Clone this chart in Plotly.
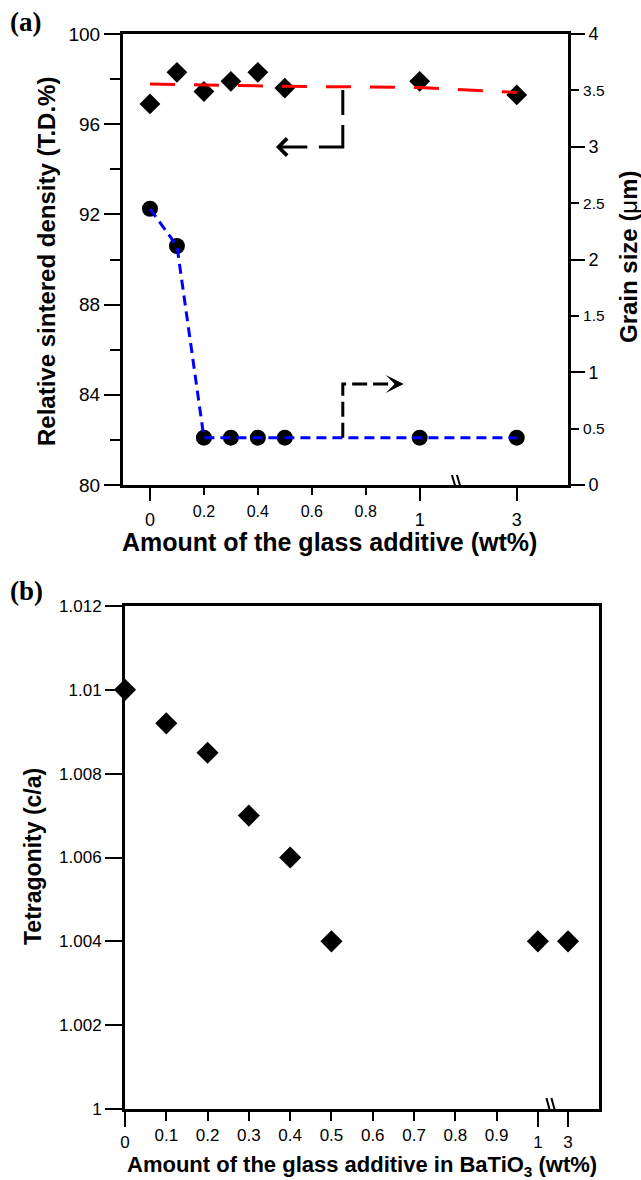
import plotly.graph_objects as go

# ---------------- data ----------------
additive_wt = [0, 0.1, 0.2, 0.3, 0.4, 0.5, 1, 3]
density_td = [96.9, 98.3, 97.45, 97.9, 98.3, 97.6, 97.9, 97.3]
density_trend = [97.78, 97.76, 97.74, 97.72, 97.70, 97.68, 97.63, 97.41]
grain_um = [2.45, 2.12, 0.42, 0.42, 0.42, 0.42, 0.42, 0.42]
tetragonality = [1.0100, 1.0092, 1.0085, 1.0070, 1.0060, 1.0040, 1.0040, 1.0040]

top_x_dec_vals = [0.2, 0.4, 0.6, 0.8]
top_x_dec_text = ["0.2", "0.4", "0.6", "0.8"]
top_x_int_vals = [0, 1, 3]
top_x_int_text = ["0", "1", "3"]
dens_major_vals = [80, 84, 88, 92, 96, 100]
dens_major_text = ["80", "84", "88", "92", "96", "100"]
dens_minor_vals = [82, 86, 90, 94, 98]
grain_dec_vals = [0.5, 1.5, 2.5, 3.5]
grain_dec_text = ["0.5", "1.5", "2.5", "3.5"]
grain_int_vals = [0, 1, 2, 3, 4]
grain_int_text = ["0", "1", "2", "3", "4"]

bot_x_dec_vals = [0.1, 0.2, 0.3, 0.4, 0.5, 0.6, 0.7, 0.8, 0.9]
bot_x_dec_text = ["0.1", "0.2", "0.3", "0.4", "0.5", "0.6", "0.7", "0.8", "0.9"]
bot_x_int_vals = [0, 1, 3]
bot_x_int_text = ["0", "1", "3"]
tet_tick_vals = [1.000, 1.002, 1.004, 1.006, 1.008, 1.010, 1.012]
tet_tick_text = ["1", "1.002", "1.004", "1.006", "1.008", "1.01", "1.012"]

# broken-axis positions (values above 1 are drawn past the break)
BREAK_A, POS3_A = 1.14, 1.36
BREAK_B, POS3_B = 1.034, 1.073


def pos_a(v):
    return v if v <= 1 else POS3_A


def pos_b(v):
    return v if v <= 1 else POS3_B


xa = [pos_a(v) for v in additive_wt]
xb = [pos_b(v) for v in additive_wt]

FONT = "Liberation Sans, Arial, Helvetica, sans-serif"
BLACK = "black"

fig = go.Figure()

fig.add_trace(go.Scatter(x=xa, y=density_td, xaxis="x", yaxis="y", mode="markers",
                         marker=dict(symbol="diamond", size=16, color=BLACK),
                         cliponaxis=False, showlegend=False))
fig.add_trace(go.Scatter(x=xa, y=grain_um, xaxis="x", yaxis="y2", mode="markers",
                         marker=dict(symbol="circle", size=16, color=BLACK),
                         cliponaxis=False, showlegend=False))
fig.add_trace(go.Scatter(x=xa, y=density_trend, xaxis="x", yaxis="y", mode="lines",
                         line=dict(color="#ff0000", width=3, dash="25px,19px"),
                         showlegend=False))
fig.add_trace(go.Scatter(x=xa, y=grain_um, xaxis="x", yaxis="y2", mode="lines",
                         line=dict(color="#0000ff", width=3, dash="10px,6px"),
                         showlegend=False))
fig.add_trace(go.Scatter(x=xb, y=tetragonality, xaxis="x2", yaxis="y4", mode="markers",
                         marker=dict(symbol="diamond", size=17, color=BLACK),
                         cliponaxis=False, showlegend=False))
# invisible helpers so that the overlay label axes get drawn
fig.add_trace(go.Scatter(x=xa, y=density_td, xaxis="x3", yaxis="y", mode="markers",
                         marker=dict(opacity=0), hoverinfo="skip", showlegend=False))
fig.add_trace(go.Scatter(x=xa, y=grain_um, xaxis="x", yaxis="y3", mode="markers",
                         marker=dict(opacity=0), hoverinfo="skip", showlegend=False))
fig.add_trace(go.Scatter(x=xb, y=tetragonality, xaxis="x4", yaxis="y4", mode="markers",
                         marker=dict(opacity=0), hoverinfo="skip", showlegend=False))

common = dict(showgrid=False, zeroline=False, ticks="outside", tickcolor=BLACK,
              tickwidth=2, linecolor=BLACK, tickmode="array")

TOP_DOM_X = [123 / 641, 568 / 641]
TOP_DOM_Y = [1 - 485 / 1180, 1 - 34 / 1180]
BOT_DOM_X = [125 / 641, 599 / 641]
BOT_DOM_Y = [1 - 1109 / 1180, 1 - 606 / 1180]
RANGE_A = [-0.1, 1.55]
RANGE_B = [0, 1.148]

fig.update_layout(
    width=641, height=1180, margin=dict(l=0, r=0, t=0, b=0),
    template="none", paper_bgcolor="white", plot_bgcolor="white",
    font=dict(family=FONT, color=BLACK), showlegend=False,
    # top panel: decimal x labels (short ticks)
    xaxis=dict(**common, domain=TOP_DOM_X, anchor="y", range=RANGE_A,
               tickvals=top_x_dec_vals, ticktext=top_x_dec_text, ticklen=7,
               showline=True, linewidth=3, mirror=True,
               tickfont=dict(size=16), ticklabelstandoff=3),
    # top panel: integer x labels (long ticks)
    xaxis3=dict(**common, overlaying="x", anchor="y", side="bottom", range=RANGE_A,
                tickvals=[pos_a(v) for v in top_x_int_vals], ticktext=top_x_int_text,
                ticklen=15, showline=False, tickfont=dict(size=18), ticklabelstandoff=3),
    yaxis=dict(**common, domain=TOP_DOM_Y, anchor="x", range=[80, 100],
               tickvals=dens_major_vals, ticktext=dens_major_text, ticklen=16,
               minor=dict(tickvals=dens_minor_vals, ticks="outside", ticklen=10,
                          tickwidth=2, tickcolor=BLACK, showgrid=False),
               showline=True, linewidth=3, tickfont=dict(size=19)),
    yaxis2=dict(**common, overlaying="y", side="right", anchor="x", range=[0, 4],
                tickvals=grain_dec_vals, ticktext=grain_dec_text,
                ticklen=8, showline=True, linewidth=3, tickfont=dict(size=15.5),
                ticklabelstandoff=1),
    yaxis3=dict(**common, overlaying="y", side="right", anchor="x", range=[0, 4],
                tickvals=grain_int_vals, ticktext=grain_int_text, ticklen=16,
                showline=False, tickfont=dict(size=18), ticklabelstandoff=0),
    xaxis2=dict(**common, domain=BOT_DOM_X, anchor="y4", range=RANGE_B,
                tickvals=bot_x_dec_vals, ticktext=bot_x_dec_text, ticklen=9,
                showline=True, linewidth=3, mirror=True, tickfont=dict(size=17),
                ticklabelstandoff=0),
    xaxis4=dict(**common, overlaying="x2", anchor="y4", side="bottom", range=RANGE_B,
                tickvals=[pos_b(v) for v in bot_x_int_vals], ticktext=bot_x_int_text,
                ticklen=17, showline=False, tickfont=dict(size=17), ticklabelstandoff=1),
    yaxis4=dict(**common, domain=BOT_DOM_Y, anchor="x2", range=[1.0, 1.012],
                tickvals=tet_tick_vals, ticktext=tet_tick_text, ticklen=17,
                showline=True, linewidth=3, mirror=True, tickfont=dict(size=17)),
)

shapes = []
# axis-break marks
for xr, yr, anc_x, anc_y, h in [("x", "y", BREAK_A, 80, 10), ("x2", "y4", BREAK_B, 1.0, 11)]:
    for off in (-2.5, 2.5):
        shapes.append(dict(type="line", xref=xr, yref=yr, xsizemode="pixel", ysizemode="pixel",
                           xanchor=anc_x, yanchor=anc_y, x0=off - 3, x1=off + 3, y0=h, y1=-h,
                           line=dict(color=BLACK, width=2)))
# left-pointing guide (density -> left axis)
shapes.append(dict(type="path", xref="x", yref="y",
                   path="M 0.715,97.52 L 0.715,94.99 L 0.589,94.99",
                   line=dict(color=BLACK, width=3, dash="25px,10px,46px,10px")))
# right-pointing guide (grain size -> right axis)
shapes.append(dict(type="path", xref="x", yref="y2",
                   path="M 0.715,0.42 L 0.715,0.896 L 0.905,0.896",
                   line=dict(color=BLACK, width=3, dash="15px,6px")))
fig.update_layout(shapes=shapes)

ann = []
ann.append(dict(x=0.467, y=94.99, ax=0.589, ay=94.99, xref="x", yref="y", axref="x", ayref="y",
                text="", showarrow=True, arrowhead=4, arrowsize=1.1, arrowwidth=3, arrowcolor=BLACK))
ann.append(dict(x=0.941, y=0.896, ax=0.90, ay=0.896, xref="x", yref="y2", axref="x", ayref="y2",
                text="", showarrow=True, arrowhead=3, arrowsize=1, arrowwidth=3, arrowcolor=BLACK))

TITLE_FONT = dict(family=FONT, size=24, color=BLACK)
SERIF = "Liberation Serif, Times New Roman, serif"


def px(xp):
    return xp / 641


def py(yp):
    return 1 - yp / 1180


def label(text, x, y, font, angle=0):
    return dict(text=text, x=px(x), y=py(y), xref="paper", yref="paper", showarrow=False,
                xanchor="center", yanchor="middle", textangle=angle, font=font)


ann += [
    label("<b>(a)</b>", 25, 22, dict(family=SERIF, size=27, color=BLACK)),
    label("<b>(b)</b>", 26, 591, dict(family=SERIF, size=27, color=BLACK)),
    label("<b>Relative sintered density (T.D.%)</b>", 47, 262, TITLE_FONT, -90),
    label("<b>Grain size (</b>μ<b>m)</b>", 629, 257, TITLE_FONT, -90),
    label("<b>Amount of the glass additive (wt%)</b>", 329, 542,
          dict(family=FONT, size=25, color=BLACK)),
    label("<b>Tetragonity (c/a)</b>", 33, 857, dict(family=FONT, size=23, color=BLACK), -90),
    label("<b>Amount of the glass additive in BaTiO<sub>3</sub> (wt%)</b>", 362, 1166,
          dict(family=FONT, size=22, color=BLACK)),
]
fig.update_layout(annotations=ann)

fig.write_html("out.html")
